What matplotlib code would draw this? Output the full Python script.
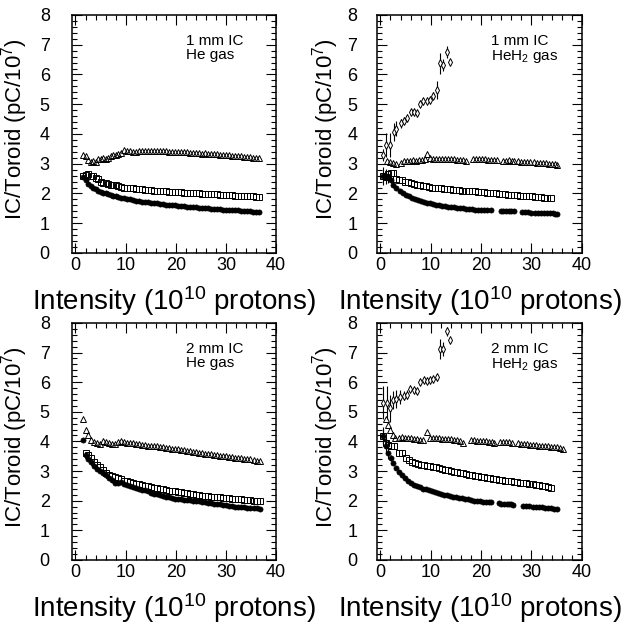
import matplotlib
matplotlib.use('Agg')
import matplotlib.pyplot as plt
from matplotlib.ticker import MultipleLocator

# Helvetica-like font for everything, including the super/subscripts
plt.rcParams['font.family'] = ['Liberation Sans', 'DejaVu Sans']
plt.rcParams['mathtext.fontset'] = 'custom'
plt.rcParams['mathtext.rm'] = 'Liberation Sans'
plt.rcParams['mathtext.it'] = 'Liberation Sans'

# ---------------- 1 mm IC, He gas ----------------
tl_x = [1.5, 2.0, 2.5, 3.0, 3.5, 4.0, 4.5, 5.0, 5.5, 6.0, 6.5, 7.0, 7.5, 8.0, 8.5, 9.0,
        9.6, 10.2, 10.8, 11.4, 12.0, 12.6, 13.2, 13.8, 14.4, 15.0, 15.6, 16.2, 16.8, 17.4,
        18.0, 18.6, 19.2, 19.8, 20.4, 21.0, 21.6, 22.2, 22.8, 23.4, 24.0, 24.6, 25.2, 25.8,
        26.4, 27.0, 27.6, 28.2, 28.8, 29.4, 30.0, 30.6, 31.2, 31.8, 32.4, 33.0, 33.6, 34.2,
        34.8, 35.4, 36.0, 36.6]
tl_tri = [3.30, 3.25, 3.12, 3.05, 3.10, 3.05, 3.15, 3.15, 3.20, 3.15,
          3.20, 3.25, 3.30, 3.30, 3.32, 3.35, 3.45, 3.44, 3.42, 3.40,
          3.40, 3.42, 3.43, 3.42, 3.43, 3.42, 3.43, 3.43, 3.42, 3.42,
          3.43, 3.40, 3.40, 3.40, 3.40, 3.39, 3.38, 3.38, 3.37, 3.37,
          3.36, 3.35, 3.34, 3.35, 3.34, 3.33, 3.32, 3.32, 3.30, 3.30,
          3.29, 3.28, 3.27, 3.26, 3.25, 3.25, 3.23, 3.22, 3.22, 3.20,
          3.19, 3.18]
tl_sq = [2.60, 2.62, 2.65, 2.60, 2.58, 2.52, 2.50, 2.38, 2.35, 2.35,
         2.33, 2.30, 2.28, 2.27, 2.25, 2.22, 2.20, 2.20, 2.18, 2.17,
         2.16, 2.15, 2.14, 2.13, 2.12, 2.12, 2.10, 2.10, 2.09, 2.08,
         2.07, 2.06, 2.06, 2.05, 2.05, 2.04, 2.03, 2.03, 2.02, 2.01,
         2.00, 2.00, 1.99, 1.99, 1.98, 1.98, 1.97, 1.97, 1.96, 1.96,
         1.95, 1.95, 1.94, 1.93, 1.93, 1.92, 1.92, 1.91, 1.90, 1.90,
         1.89, 1.88]
tl_circ = [2.55, 2.45, 2.32, 2.25, 2.20, 2.15, 2.10, 2.05, 2.02, 2.00,
           1.97, 1.95, 1.92, 1.90, 1.88, 1.86, 1.84, 1.82, 1.80, 1.78,
           1.76, 1.75, 1.73, 1.72, 1.70, 1.69, 1.68, 1.67, 1.66, 1.64,
           1.63, 1.62, 1.61, 1.60, 1.59, 1.58, 1.57, 1.56, 1.55, 1.54,
           1.53, 1.52, 1.52, 1.51, 1.50, 1.49, 1.48, 1.48, 1.47, 1.46,
           1.45, 1.45, 1.44, 1.43, 1.43, 1.42, 1.41, 1.41, 1.40, 1.39,
           1.39, 1.38]

# ---------------- 1 mm IC, HeH2 gas ----------------
tr_dia_x = [0.5, 1.1, 1.9, 2.7, 3.2, 4.0, 4.6, 5.2, 6.0, 6.6, 7.2, 7.9, 8.5, 9.2, 9.9,
            10.5, 11.2, 11.9, 12.5, 13.2, 13.9]
tr_dia_y = [3.30, 3.63, 3.63, 4.08, 4.17, 4.36, 4.44, 4.53, 4.73, 4.75, 4.70, 5.00, 5.11,
            5.11, 5.14, 5.29, 5.48, 6.38, 6.32, 6.77, 6.41]
tr_dia_err = [0.20, 0.40, 0.40, 0.30, 0.25, 0.15, 0.12, 0.10, 0.10, 0.10, 0.10, 0.10, 0.10,
              0.08, 0.10, 0.12, 0.30, 0.35, 0.20, 0.20, 0.05]
tr_tri_x = [1.4, 2.0, 2.5, 3.2, 4.0, 4.6, 5.2, 5.8, 6.4, 7.0, 7.6, 8.2, 8.8, 9.3, 9.9,
            10.5, 11.1, 11.7, 12.3, 12.9, 13.5, 14.1, 14.7, 15.3, 15.9, 16.5, 17.0, 18.3,
            18.9, 19.5, 20.1, 20.7, 21.3, 21.9, 22.5, 23.1, 24.3, 24.9, 25.5, 26.1, 26.6,
            27.4, 28.0, 28.6, 29.2, 29.8, 30.4, 31.0, 31.6, 32.2, 32.8, 33.4, 34.0, 34.6, 35.1]
tr_tri = [3.10, 3.05, 3.01, 2.99, 3.03, 3.08, 3.10, 3.10, 3.11, 3.10,
          3.12, 3.12, 3.15, 3.33, 3.18, 3.16, 3.16, 3.15, 3.15, 3.15,
          3.15, 3.15, 3.15, 3.14, 3.14, 3.13, 3.08, 3.17, 3.16, 3.16,
          3.15, 3.15, 3.14, 3.14, 3.13, 3.13, 3.10, 3.10, 3.11, 3.10,
          3.09, 3.08, 3.07, 3.07, 3.06, 3.05, 3.05, 3.04, 3.03, 3.02,
          3.01, 3.00, 2.99, 2.98, 2.96]
tr_sq_x = [0.6, 1.1, 1.6, 2.1, 2.5, 3.1, 3.7, 4.3, 4.9, 5.5, 6.1, 6.7, 7.3, 7.9, 8.5, 9.1,
           9.7, 10.3, 10.9, 11.5, 12.1, 12.7, 13.3, 13.9, 14.5, 15.1, 15.7, 16.3, 16.9,
           17.5, 18.1, 18.7, 19.3, 19.9, 20.5, 21.1, 21.7, 22.3, 22.9, 23.5, 24.1, 24.7,
           25.3, 25.9, 26.5, 27.1, 27.7, 28.3, 28.9, 29.5, 30.1, 30.7, 31.3, 31.9, 32.5,
           33.1, 33.8]
tr_sq = [2.60, 2.55, 2.65, 2.70, 2.68, 2.50, 2.45, 2.45, 2.40, 2.38,
         2.35, 2.32, 2.28, 2.27, 2.25, 2.24, 2.22, 2.20, 2.19, 2.18,
         2.17, 2.16, 2.15, 2.14, 2.13, 2.12, 2.11, 2.10, 2.09, 2.08,
         2.07, 2.07, 2.06, 2.05, 2.04, 2.03, 2.02, 2.01, 2.00, 1.99,
         1.98, 1.97, 1.96, 1.95, 1.95, 1.94, 1.93, 1.92, 1.91, 1.90,
         1.90, 1.89, 1.88, 1.87, 1.86, 1.85, 1.84]
tr_circ_x = [0.6, 1.1, 1.6, 2.1, 2.6, 3.2, 3.8, 4.4, 5.0, 5.6, 6.2, 6.8, 7.4, 8.0, 8.6,
             9.2, 9.8, 10.4, 11.0, 11.6, 12.2, 12.8, 13.4, 14.0, 14.6, 15.2, 15.8, 16.4,
             17.0, 17.6, 18.2, 18.8, 19.4, 20.0, 20.6, 21.2, 21.9, 23.9, 24.3, 25.0, 25.5,
             26.0, 26.6, 28.2, 28.8, 29.4, 30.0, 30.6, 31.2, 31.8, 32.4, 33.0, 33.6, 34.2,
             34.7, 35.1]
tr_circ = [2.60, 2.58, 2.55, 2.45, 2.28, 2.18, 2.08, 2.00, 1.95, 1.90,
           1.85, 1.82, 1.78, 1.75, 1.72, 1.69, 1.67, 1.65, 1.63, 1.61,
           1.59, 1.57, 1.56, 1.54, 1.53, 1.52, 1.51, 1.50, 1.49, 1.48,
           1.47, 1.46, 1.45, 1.45, 1.44, 1.44, 1.43, 1.42, 1.42, 1.41,
           1.41, 1.40, 1.40, 1.38, 1.37, 1.37, 1.36, 1.36, 1.35, 1.35,
           1.34, 1.34, 1.33, 1.33, 1.32, 1.32]
tr_circ_err = [0.30, 0.25, 0.20, 0.10]

# ---------------- 2 mm IC, He gas ----------------
bl_x = [1.5, 2.0, 2.5, 3.1, 3.7, 4.3, 4.9, 5.5, 6.1, 6.7, 7.3, 7.9, 8.5, 9.1, 9.7, 10.3,
        10.9, 11.5, 12.1, 12.7, 13.3, 13.9, 14.5, 15.1, 15.7, 16.3, 16.9, 17.5, 18.1, 18.7,
        19.3, 19.9, 20.5, 21.1, 21.7, 22.3, 22.9, 23.5, 24.1, 24.7, 25.3, 25.9, 26.5, 27.1,
        27.7, 28.3, 28.9, 29.5, 30.1, 30.7, 31.3, 31.9, 32.5, 33.1, 33.7, 34.3, 34.9, 35.5,
        36.1, 36.7]
bl_tri = [4.75, 4.39, 4.22, 4.05, 3.98, 3.94, 3.92, 4.00, 3.97, 3.95,
          3.90, 3.92, 3.98, 4.00, 3.97, 3.95, 3.94, 3.93, 3.90, 3.90,
          3.88, 3.87, 3.86, 3.84, 3.83, 3.85, 3.82, 3.80, 3.79, 3.78,
          3.76, 3.75, 3.73, 3.71, 3.70, 3.68, 3.66, 3.65, 3.63, 3.61,
          3.60, 3.59, 3.57, 3.56, 3.55, 3.53, 3.52, 3.51, 3.50, 3.48,
          3.46, 3.45, 3.44, 3.43, 3.42, 3.40, 3.39, 3.37, 3.35, 3.33]
bl_circ = [4.05, 3.55, 3.42, 3.30, 3.18, 3.08, 3.00, 2.93, 2.85, 2.78,
           2.70, 2.60, 2.58, 2.62, 2.56, 2.52, 2.49, 2.46, 2.43, 2.40,
           2.37, 2.35, 2.32, 2.27, 2.24, 2.21, 2.18, 2.16, 2.13, 2.11,
           2.09, 2.07, 2.05, 2.04, 2.03, 2.02, 2.01, 2.00, 1.99, 1.98,
           1.96, 1.95, 1.93, 1.92, 1.90, 1.89, 1.88, 1.86, 1.85, 1.83,
           1.81, 1.80, 1.79, 1.78, 1.77, 1.76, 1.75, 1.74, 1.74, 1.73]
# squares start at the second intensity point
bl_sq = [3.62, 3.55, 3.45, 3.32, 3.22, 3.12, 3.02, 2.93, 2.88,
         2.82, 2.80, 2.76, 2.72, 2.68, 2.65, 2.62, 2.60, 2.57, 2.55,
         2.53, 2.50, 2.48, 2.46, 2.44, 2.42, 2.40, 2.38, 2.36, 2.34,
         2.32, 2.31, 2.29, 2.28, 2.26, 2.25, 2.23, 2.21, 2.20, 2.18,
         2.17, 2.16, 2.15, 2.14, 2.13, 2.12, 2.11, 2.10, 2.09, 2.08,
         2.07, 2.06, 2.05, 2.04, 2.03, 2.02, 2.01, 2.00, 1.99, 1.98]

# ---------------- 2 mm IC, HeH2 gas ----------------
br_dia_x = [0.6, 1.3, 1.9, 2.6, 3.2, 3.9, 4.6, 5.2, 5.9, 6.6, 7.2, 7.9, 8.6, 9.2, 9.9,
            10.5, 11.2, 11.9, 12.5, 13.2, 13.9]
br_dia_y = [5.31, 5.31, 5.12, 5.40, 5.43, 5.50, 5.54, 5.58, 5.77, 5.74, 5.69, 6.02, 6.08,
            6.05, 6.08, 6.10, 6.17, 7.12, 7.12, 7.71, 7.41]
br_dia_err = [0.55, 0.55, 0.45, 0.30, 0.30, 0.25, 0.15, 0.15, 0.10, 0.10, 0.08, 0.10, 0.08,
              0.08, 0.08, 0.08, 0.12, 0.35, 0.25, 0.15, 0.05]
br_tri_x = [1.2, 1.6, 2.0, 2.5, 3.0, 3.6, 4.3, 4.9, 5.5, 6.1, 6.7, 7.3, 7.9, 8.5, 9.2, 9.9,
            10.5, 11.1, 11.7, 12.3, 12.9, 13.5, 14.1, 14.7, 15.3, 15.9, 16.5, 17.9, 18.5,
            19.1, 19.7, 20.3, 20.9, 21.5, 22.1, 22.6, 23.8, 24.4, 25.0, 25.6, 26.2, 27.3,
            27.9, 28.5, 29.1, 29.7, 30.3, 30.9, 31.5, 32.1, 32.7, 33.3, 33.9, 34.5, 35.1,
            35.7, 36.3]
br_tri = [4.74, 4.55, 4.39, 4.22, 4.11, 4.13, 4.15, 4.13, 4.11, 4.10,
          4.08, 4.07, 4.06, 4.05, 4.31, 4.12, 4.11, 4.10, 4.10, 4.09,
          4.09, 4.08, 4.07, 4.06, 4.05, 4.03, 3.96, 4.05, 4.04, 4.03,
          4.02, 4.01, 4.00, 3.99, 3.97, 3.95, 3.99, 3.98, 3.98, 3.97,
          3.96, 3.93, 3.92, 3.91, 3.90, 3.89, 3.88, 3.87, 3.86, 3.85,
          3.84, 3.83, 3.82, 3.81, 3.80, 3.78, 3.76]
br_sq_x = [0.5, 1.1, 1.6, 2.2, 2.8, 3.6, 4.3, 5.0, 5.6, 6.2, 6.8, 7.4, 8.0, 8.6, 9.2, 9.8,
           10.4, 11.0, 11.6, 12.2, 12.8, 13.4, 14.0, 14.6, 15.2, 15.8, 16.4, 17.0, 17.6,
           18.2, 18.8, 19.4, 20.0, 20.6, 21.2, 21.8, 22.4, 23.0, 23.6, 24.2, 24.8, 25.4,
           26.0, 26.6, 27.2, 27.8, 28.4, 29.0, 29.6, 30.2, 30.8, 31.4, 32.0, 32.6, 33.2, 33.8]
br_sq = [4.17, 3.95, 3.89, 3.85, 3.83, 3.60, 3.60, 3.43, 3.38, 3.32,
         3.28, 3.24, 3.22, 3.20, 3.18, 3.16, 3.14, 3.12, 3.10, 3.06,
         3.04, 3.02, 3.00, 2.98, 2.96, 2.94, 2.92, 2.90, 2.88, 2.86,
         2.84, 2.82, 2.81, 2.79, 2.78, 2.76, 2.74, 2.73, 2.71, 2.70,
         2.68, 2.67, 2.66, 2.64, 2.62, 2.61, 2.59, 2.58, 2.56, 2.55,
         2.53, 2.52, 2.50, 2.48, 2.46, 2.43]
br_sq_err = [0.25, 0.20, 0.15, 0.10]
br_circ_x = [0.6, 1.1, 1.6, 2.1, 2.6, 3.1, 3.6, 4.2, 4.8, 5.4, 6.0, 6.6, 7.2, 7.8, 8.4,
             9.0, 9.6, 10.2, 10.8, 11.4, 12.0, 12.6, 13.2, 13.8, 14.4, 15.0, 15.6, 16.2,
             16.8, 17.4, 18.0, 18.6, 19.2, 19.8, 20.4, 21.0, 21.6, 22.0, 23.5, 24.0, 24.5,
             25.1, 25.6, 26.0, 26.4, 28.4, 29.0, 29.6, 30.2, 30.8, 31.4, 32.0, 32.6, 33.2,
             33.8, 34.4, 35.0]
br_circ = [4.17, 3.85, 3.62, 3.45, 3.28, 3.10, 2.98, 2.85, 2.75, 2.66,
           2.60, 2.54, 2.49, 2.45, 2.41, 2.38, 2.35, 2.31, 2.28, 2.25,
           2.22, 2.20, 2.18, 2.16, 2.14, 2.12, 2.10, 2.08, 2.06, 2.04,
           2.02, 2.00, 1.99, 1.98, 1.97, 1.96, 1.95, 1.94, 1.91, 1.90,
           1.90, 1.89, 1.88, 1.88, 1.87, 1.83, 1.82, 1.81, 1.80, 1.79,
           1.78, 1.77, 1.76, 1.75, 1.74, 1.73, 1.72]
br_circ_err = [0.30, 0.25, 0.20, 0.10]

panel_titles = ['1 mm IC\nHe gas', '1 mm IC\nHeH$_2$ gas',
                '2 mm IC\nHe gas', '2 mm IC\nHeH$_2$ gas']
x_label = 'Intensity (10$^{10}$ protons)'
y_label = 'IC/Toroid (pC/10$^7$)'
x_ticks = [0, 10, 20, 30, 40]
y_ticks = [0, 1, 2, 3, 4, 5, 6, 7, 8]

TRI = dict(marker='^', ms=4.8, mfc='none', mec='k', mew=0.7, ls='none')
SQ = dict(marker='s', ms=3.9, mfc='none', mec='k', mew=0.7, ls='none')
CIRC = dict(marker='o', ms=3.7, mfc='k', mec='k', mew=0.5, ls='none')
DIA = dict(marker='d', ms=3.6, mfc='white', mec='k', mew=0.7, ls='none',
           ecolor='k', elinewidth=0.8, capsize=0)


def style_axes(ax, left_col):
    ax.set_xlim(-0.7, 40)
    ax.set_ylim(0, 8)
    ax.set_xticks(x_ticks)
    ax.set_yticks(y_ticks)
    ax.xaxis.set_minor_locator(MultipleLocator(2))
    ax.yaxis.set_minor_locator(MultipleLocator(0.2))
    ypad = 16 if left_col else 14
    ax.tick_params(which='both', direction='in', top=True, right=True,
                   width=0.8, labelsize=13)
    ax.tick_params(axis='x', which='major', length=7, pad=3)
    ax.tick_params(axis='y', which='major', length=7, pad=ypad)
    ax.tick_params(which='minor', length=3.5)
    for sp in ax.spines.values():
        sp.set_linewidth(1.1)
    ax.set_xlabel(x_label, fontsize=20, labelpad=7)
    ax.set_ylabel(y_label, fontsize=16)
    # ylabel anchor is the right edge of the rotated text
    ax.yaxis.set_label_coords(-0.205 if left_col else -0.175, 0.52)


fig = plt.figure(figsize=(6.26, 6.27), dpi=100)

# axes positions in figure fractions
ax_tl = fig.add_axes([0.115, 0.5965, 0.326, 0.3796])
ax_tr = fig.add_axes([0.602, 0.5965, 0.3275, 0.3796])
ax_bl = fig.add_axes([0.115, 0.107, 0.326, 0.378])
ax_br = fig.add_axes([0.602, 0.107, 0.3275, 0.378])

# 1 mm IC, He
ax_tl.plot(tl_x, tl_tri, **TRI)
ax_tl.plot(tl_x, tl_sq, **SQ)
ax_tl.plot(tl_x, tl_circ, **CIRC)

# 1 mm IC, HeH2
ax_tr.plot(tr_tri_x, tr_tri, **TRI)
ax_tr.plot(tr_sq_x, tr_sq, **SQ)
ax_tr.plot(tr_circ_x, tr_circ, **CIRC)
n = len(tr_circ_err)
ax_tr.errorbar(tr_circ_x[:n], tr_circ[:n], yerr=tr_circ_err, fmt='none',
               ecolor='k', elinewidth=0.8)
ax_tr.errorbar(tr_dia_x, tr_dia_y, yerr=tr_dia_err, **DIA)

# 2 mm IC, He
ax_bl.plot(bl_x, bl_tri, **TRI)
ax_bl.plot(bl_x[1:], bl_sq, **SQ)
ax_bl.plot(bl_x, bl_circ, **CIRC)

# 2 mm IC, HeH2
ax_br.plot(br_tri_x, br_tri, **TRI)
ax_br.plot(br_sq_x, br_sq, **SQ)
ax_br.plot(br_circ_x, br_circ, **CIRC)
n = len(br_sq_err)
ax_br.errorbar(br_sq_x[:n], br_sq[:n], yerr=br_sq_err, fmt='none',
               ecolor='k', elinewidth=0.8)
n = len(br_circ_err)
ax_br.errorbar(br_circ_x[:n], br_circ[:n], yerr=br_circ_err, fmt='none',
               ecolor='k', elinewidth=0.8)
ax_br.errorbar(br_dia_x, br_dia_y, yerr=br_dia_err, **DIA)

for ax, title, left_col in zip([ax_tl, ax_tr, ax_bl, ax_br], panel_titles,
                               [True, False, True, False]):
    style_axes(ax, left_col)
    ax.text(22, 7.35, title, ha='left', va='top', fontsize=11,
            linespacing=1.0, multialignment='left')

fig.savefig('out.png', dpi=100)
